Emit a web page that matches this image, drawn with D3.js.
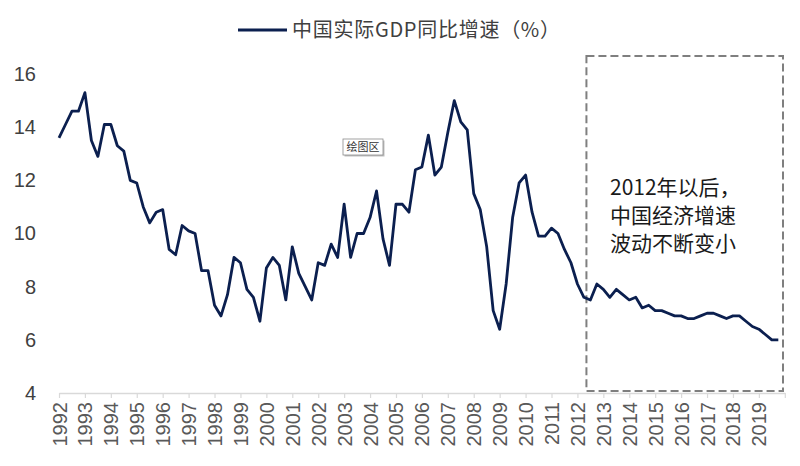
<!DOCTYPE html>
<html>
<head>
<meta charset="utf-8">
<script src="https://cdn.jsdelivr.net/npm/d3@7"></script>
<style>
  html, body { margin: 0; padding: 0; background: #fff; }
  svg { display: block; }
</style>
</head>
<body>
<div id="chart"></div>
<script>
// ---- data ----
const years = [1992,1993,1994,1995,1996,1997,1998,1999,2000,2001,2002,2003,2004,2005,
               2006,2007,2008,2009,2010,2011,2012,2013,2014,2015,2016,2017,2018,2019];
const quarters = ["Q1","Q2","Q3","Q4"];
const gdpGrowth = [
  13.6, 14.1, 14.6, 14.6,
  15.3, 13.5, 12.9, 14.1,
  14.1, 13.3, 13.1, 12.0,
  11.9, 11.0, 10.4, 10.8,
  10.9,  9.4,  9.2, 10.3,
  10.1, 10.0,  8.6,  8.6,
   7.3,  6.9,  7.7,  9.1,
   8.9,  7.9,  7.6,  6.7,
   8.7,  9.1,  8.8,  7.5,
   9.5,  8.5,  8.0,  7.5,
   8.9,  8.8,  9.6,  9.1,
  11.1,  9.1, 10.0, 10.0,
  10.6, 11.6,  9.8,  8.8,
  11.1, 11.1, 10.8, 12.4,
  12.5, 13.7, 12.2, 12.5,
  13.8, 15.0, 14.2, 13.9,
  11.5, 10.9,  9.5,  7.1,
   6.4,  8.1, 10.6, 11.9,
  12.2, 10.8,  9.9,  9.9,
  10.2, 10.0,  9.4,  8.9,
   8.1,  7.6,  7.5,  8.1,
   7.9,  7.6,  7.9,  7.7,
   7.5,  7.6,  7.2,  7.3,
   7.1,  7.1,  7.0,  6.9,
   6.9,  6.8,  6.8,  6.9,
   7.0,  7.0,  6.9,  6.8,
   6.9,  6.9,  6.7,  6.5,
   6.4,  6.2,  6.0,  6.0
];
const yTicks = [4, 6, 8, 10, 12, 14, 16];
const legendLabel = "中国实际GDP同比增速（%）";
const noteLines = ["2012年以后，", "中国经济增速", "波动不断变小"];
const boxStartYear = 2012;

const categories = [];
years.forEach(y => quarters.forEach(q => categories.push(y + q)));
const series = categories.map((c, i) => ({ cat: c, idx: i, v: gdpGrowth[i] }));

// ---- layout ----
const W = 800, H = 466;
const svg = d3.select("#chart").append("svg").attr("width", W).attr("height", H);

const x = d3.scaleLinear().domain([0, categories.length]).range([59, 784.8]);
const y = d3.scaleLinear().domain([4, 16]).range([393, 74]);

// x axis
const xAxis = d3.axisBottom(x)
  .tickValues(d3.range(0, categories.length + 1, 4))
  .tickSizeInner(5).tickSizeOuter(0)
  .tickFormat(d => d < categories.length ? String(years[d / 4]) : "");
const gx = svg.append("g").attr("transform", `translate(0,${y(4)})`).call(xAxis);
gx.select(".domain").attr("stroke", "#d9d9d9").attr("stroke-width", 1.5);
gx.selectAll(".tick line").attr("stroke", "#d9d9d9").attr("stroke-width", 1.2);
gx.selectAll(".tick text")
  .attr("fill", "#595959")
  .style("font-family", "'Liberation Sans', Arial, sans-serif")
  .style("font-size", "20px")
  .attr("transform", "rotate(-90)")
  .attr("text-anchor", "end")
  .attr("x", -9)
  .attr("y", 0)
  .attr("dy", "0.35em");

// y axis (labels only)
const yAxis = d3.axisLeft(y).tickValues(yTicks).tickSize(0).tickPadding(0);
const gy = svg.append("g").attr("transform", "translate(36,0)").call(yAxis);
gy.select(".domain").remove();
gy.selectAll(".tick text")
  .attr("fill", "#404040")
  .style("font-family", "'Liberation Sans', Arial, sans-serif")
  .style("font-size", "20px");

// dashed box over the post-2012 period
const boxX0 = x(years.indexOf(boxStartYear) * 4) + 9;
svg.append("rect")
  .attr("x", boxX0).attr("y", 56)
  .attr("width", 783 - boxX0).attr("height", y(4) - 2 - 56)
  .attr("fill", "none")
  .attr("stroke", "#7f7f7f")
  .attr("stroke-width", 2)
  .attr("stroke-dasharray", "8,4");

// line
const line = d3.line().x(d => x(d.idx)).y(d => y(d.v));
svg.append("path")
  .datum(series)
  .attr("d", line)
  .attr("fill", "none")
  .attr("stroke", "#0b1f4f")
  .attr("stroke-width", 2.8)
  .attr("stroke-linejoin", "round");

// annotation
const note = svg.append("text")
  .attr("fill", "#1a1a1a")
  .style("font-family", "'Noto Sans CJK SC', sans-serif")
  .style("font-size", "21px");
noteLines.forEach((t, i) => {
  note.append("tspan").attr("x", 610).attr("y", 195 + i * 28).text(t);
});

// legend
svg.append("line")
  .attr("x1", 238).attr("x2", 287).attr("y1", 30).attr("y2", 30)
  .attr("stroke", "#0b1f4f").attr("stroke-width", 3);
svg.append("text")
  .attr("x", 292).attr("y", 30).attr("dy", "0.35em")
  .attr("fill", "#404040")
  .style("font-family", "'Noto Sans CJK SC', sans-serif")
  .style("font-size", "20px")
  .attr("textLength", 268)
  .attr("lengthAdjust", "spacing")
  .text(legendLabel);

// "绘图区" plot-area tag
const tag = svg.append("g").attr("transform", "translate(343,139)");
tag.append("rect").attr("x", 1.5).attr("y", 1.5).attr("width", 40).attr("height", 16)
  .attr("fill", "#bfbfbf");
tag.append("rect").attr("x", 0).attr("y", 0).attr("width", 40).attr("height", 16)
  .attr("fill", "#fff").attr("stroke", "#8c8c8c").attr("stroke-width", 0.8);
tag.append("text").attr("x", 20).attr("y", 8).attr("dy", "0.35em")
  .attr("text-anchor", "middle")
  .attr("fill", "#333")
  .style("font-family", "'Noto Sans CJK SC', sans-serif")
  .style("font-size", "11px")
  .text("绘图区");
</script>
</body>
</html>
